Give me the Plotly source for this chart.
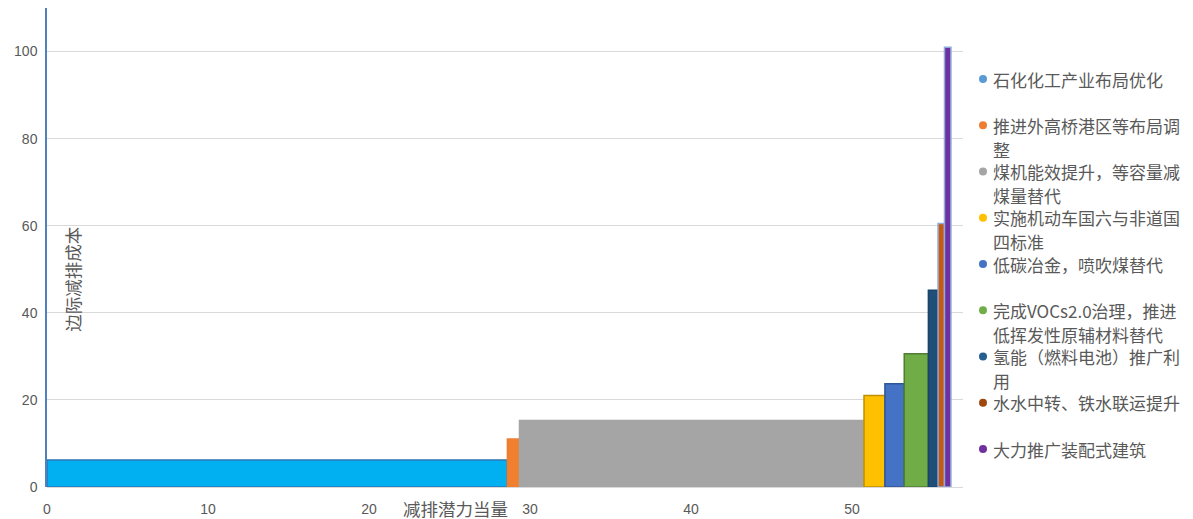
import numpy as np
import plotly.graph_objects as go

# Abatement measures (legend text, <br> marks the wrapped line)
measures = [
    "石化化工产业布局优化",
    "推进外高桥港区等布局调<br>整",
    "煤机能效提升，等容量减<br>煤量替代",
    "实施机动车国六与非道国<br>四标准",
    "低碳冶金，喷吹煤替代",
    "完成VOCs2.0治理，推进<br>低挥发性原辅材料替代",
    "氢能（燃料电池）推广利<br>用",
    "水水中转、铁水联运提升",
    "大力推广装配式建筑",
]
# Abatement potential (bar width) and marginal abatement cost (bar height)
potential = [28.6, 0.75, 21.4, 1.3, 1.2, 1.5, 0.6, 0.4, 0.4]
cost = [6.2, 11.0, 15.3, 21.0, 23.7, 30.6, 45.2, 60.5, 101.0]

bar_fill = ["#00B0F0", "#F07F30", "#A5A5A5", "#FFC000", "#4472C4",
            "#70AD47", "#1F4E79", "#C55A11", "#7030A0"]
bar_line = ["#2E75B6", "#ED7D31", "#A5A5A5", "#BF9000", "#2F5597",
            "#507E32", "#1A4369", "#8FAADC", "#8FAADC"]
legend_color = ["#5B9BD5", "#ED7D31", "#A5A5A5", "#FFC000", "#4472C4",
                "#70AD47", "#255E91", "#9E480E", "#7030A0"]

x_ticks = [0, 10, 20, 30, 40, 50]
y_ticks = [0, 20, 40, 60, 80, 100]

W, H = 1193, 519
M_L, M_R, M_T, M_B = 47, 230, 8, 32
plot_h = H - M_T - M_B

starts = np.concatenate([[0], np.cumsum(potential)[:-1]])
centers = starts + np.array(potential) / 2

fig = go.Figure()
for i in range(len(measures)):
    fig.add_trace(go.Bar(
        x=[centers[i]], y=[cost[i]], width=[potential[i]], base=0,
        marker=dict(color=bar_fill[i], line=dict(color=bar_line[i], width=1.5)),
        name=measures[i].replace("<br>", ""),
        showlegend=False, hoverinfo="skip",
    ))

# Legend drawn at the right of the plot: a dot plus one or two lines per measure
legend_top_px = 79      # centre of the first entry's first line
entry_step_px = 46.25   # distance between entries
line_step_px = 24       # distance between wrapped lines
annotations = []
shapes = []
for i, label in enumerate(measures):
    y_px = legend_top_px + i * entry_step_px
    y_paper = (H - M_B - y_px) / plot_h
    shapes.append(dict(
        type="circle", xref="paper", yref="paper",
        xsizemode="pixel", ysizemode="pixel",
        xanchor=1.0, yanchor=y_paper, x0=16, x1=24, y0=-4, y1=4,
        fillcolor=legend_color[i], line=dict(width=0),
    ))
    for j, part in enumerate(label.split("<br>")):
        annotations.append(dict(
            text=part, xref="paper", yref="paper", x=1.0, xshift=28,
            xanchor="left", yanchor="middle",
            y=(H - M_B - (y_px + j * line_step_px)) / plot_h,
            showarrow=False, font=dict(size=17, color="#595959"),
        ))

annotations += [
    dict(text="边际减排成本", textangle=-90, xref="paper", yref="y",
         x=(73 - M_L) / (W - M_L - M_R), xanchor="center", y=47.6,
         showarrow=False, font=dict(size=17.5, color="#595959")),
    dict(text="减排潜力当量", xref="x", yref="paper", x=25.4, y=0,
         yshift=-21, yanchor="middle", showarrow=False,
         font=dict(size=17.5, color="#595959")),
]

tick_font = dict(size=14, color="#595959", family="Liberation Sans, sans-serif")
fig.update_layout(
    width=W, height=H,
    margin=dict(l=M_L, r=M_R, t=M_T, b=M_B),
    paper_bgcolor="white", plot_bgcolor="white",
    barmode="overlay", showlegend=False,
    font=dict(family="Noto Sans CJK SC, Noto Sans, sans-serif", color="#595959"),
    xaxis=dict(
        range=[0, 56.9], tickvals=x_ticks, showgrid=False, zeroline=False,
        showline=False, ticks="", tickfont=tick_font, ticklabelstandoff=12,
        automargin=False,
    ),
    yaxis=dict(
        range=[0, 110], tickvals=y_ticks, showgrid=True, gridcolor="#D9D9D9",
        gridwidth=1, zeroline=True, zerolinecolor="#D9D9D9", zerolinewidth=1,
        showline=True, linecolor="#4F81BD", linewidth=1.5, ticks="",
        tickfont=tick_font, ticklabelstandoff=5, automargin=False,
    ),
    annotations=annotations,
    shapes=shapes,
)

fig.write_html("out.html")
